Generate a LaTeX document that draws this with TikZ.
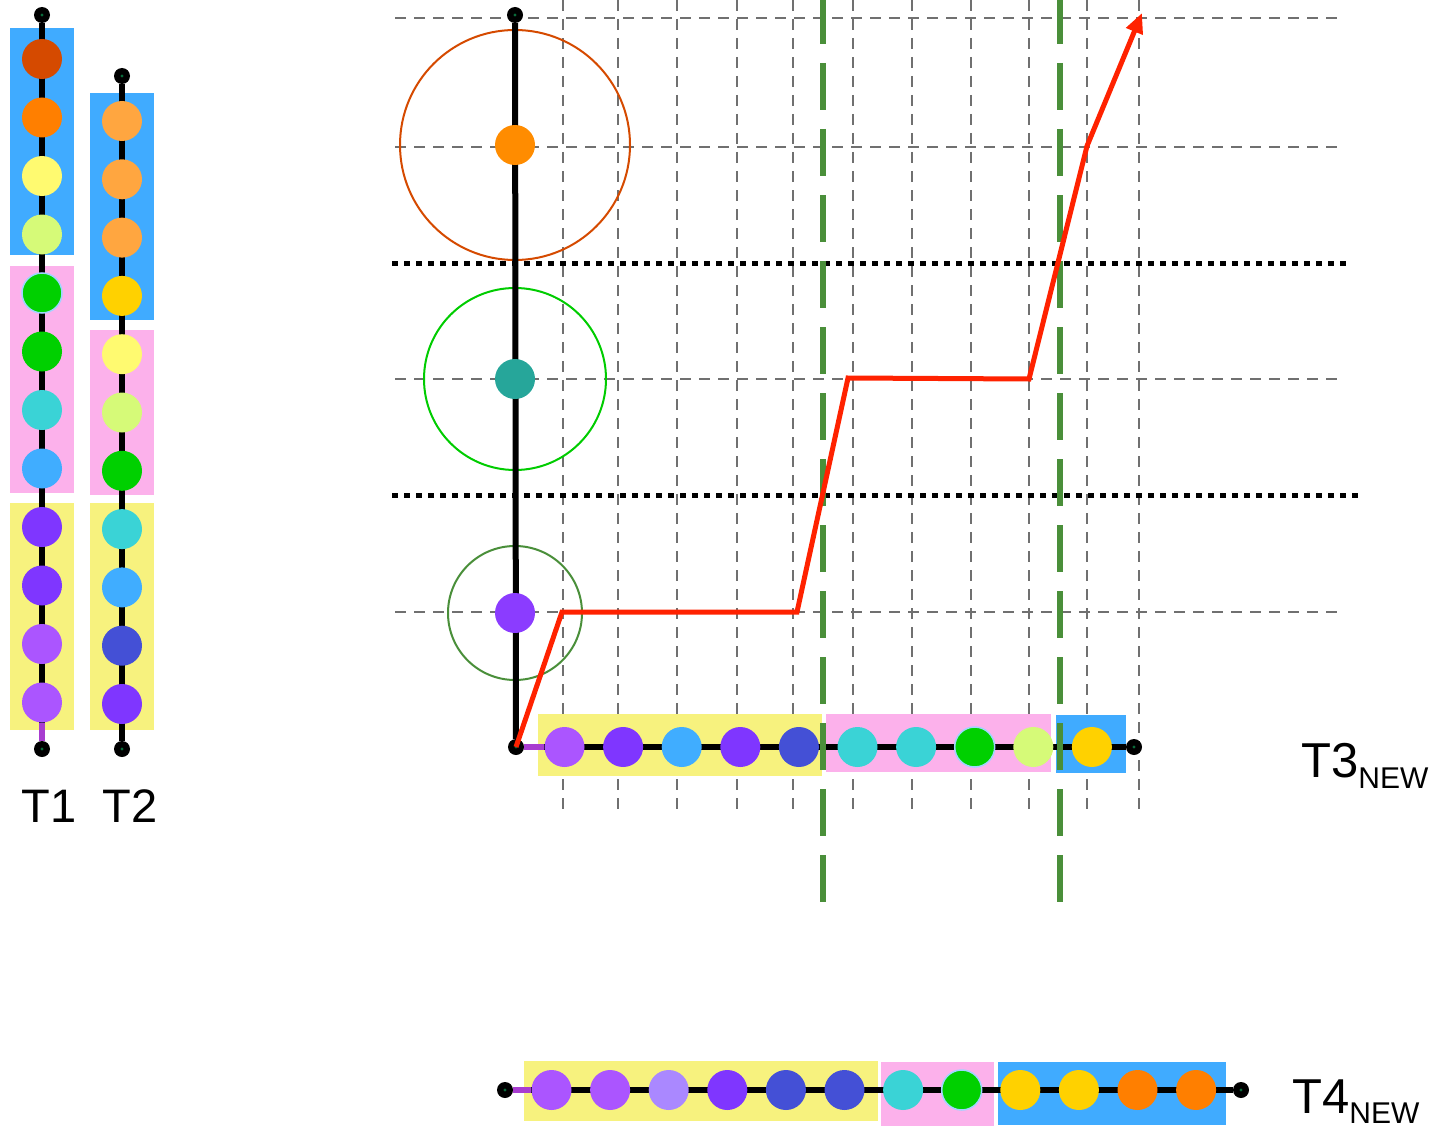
\documentclass[tikz,border=0pt]{standalone}
\usepackage{fontspec}
\setmainfont{Liberation Sans}
\usetikzlibrary{arrows.meta}
\definecolor{darkorg}{HTML}{D54A00}
\definecolor{org}{HTML}{FF7F00}
\definecolor{ylw}{HTML}{FFFA70}
\definecolor{lgrn}{HTML}{D6FA78}
\definecolor{grn}{HTML}{00D000}
\definecolor{cyn}{HTML}{3AD3D6}
\definecolor{blu}{HTML}{40ADFF}
\definecolor{pur}{HTML}{7F36FF}
\definecolor{lpur}{HTML}{AB55FF}
\definecolor{lorg}{HTML}{FFA640}
\definecolor{gld}{HTML}{FFD100}
\definecolor{ind}{HTML}{4450D6}
\definecolor{lav}{HTML}{AA88FF}
\definecolor{plotorg}{HTML}{FF8C00}
\definecolor{tealc}{HTML}{26A69A}
\definecolor{plotpur}{HTML}{8B3CFF}
\definecolor{boxblue}{HTML}{40ABFF}
\definecolor{boxpink}{HTML}{FCB1EB}
\definecolor{boxyellow}{HTML}{F7F27E}
\definecolor{ringgreen}{HTML}{00CC00}
\definecolor{dkgreen}{HTML}{4A8F3A}
\definecolor{redc}{HTML}{FF2200}
\definecolor{segpur}{HTML}{A83CD0}
\definecolor{haloblue}{HTML}{A0D4FF}
\definecolor{dotgreen}{HTML}{0A6A3A}
\definecolor{gridgray}{HTML}{707070}
\tikzset{
  bead/.style={circle, inner sep=0pt, minimum size=40pt},
  nohalo/.style={},
  halo/.style={draw=haloblue, line width=1.5pt},
  endpt/.style={circle, fill=black, inner sep=0pt, minimum size=16pt,
    path picture={\fill[dotgreen] (path picture bounding box.center) circle (1.6pt);}},
  chain/.style={line width=6pt, black},
  purseg/.style={line width=6pt, segpur},
  gridline/.style={gridgray, line width=2.7pt, dash pattern=on 11pt off 8pt},
  dotline/.style={black, line width=5pt, dash pattern=on 6pt off 6pt},
  sepline/.style={dkgreen, line width=5.5pt, dash pattern=on 47pt off 19pt},
  lbl/.style={font=\fontsize{47}{47}\selectfont, inner sep=0pt},
  biglbl/.style={font=\fontsize{49}{49}\selectfont, inner sep=0pt}
}
\begin{document}
\begin{tikzpicture}[x=1pt,y=-1pt]
\useasboundingbox (0,0) rectangle (1435,1129);

% ---- grid ----
\foreach \gy [count=\k] in {18,147,379,612} {
  \coordinate (gl\k) at (395,\gy); \coordinate (gr\k) at (1340,\gy);
  \draw[gridline] (gl\k) -- (gr\k);
}
\foreach \gx [count=\k] in {563,618,677,737,793,853,912,971,1029,1087,1139} {
  \coordinate (gt\k) at (\gx,0); \coordinate (gb\k) at (\gx,815);
  \draw[gridline] (gt\k) -- (gb\k);
}
\coordinate (d1l) at (392,263); \coordinate (d1r) at (1347,263);
\coordinate (d2l) at (392,495); \coordinate (d2r) at (1358,495);
\draw[dotline] (d1l) -- (d1r);
\draw[dotline] (d2l) -- (d2r);

% ---- rings ----
\draw[darkorg, line width=2pt] (515,145) circle (115pt);
\draw[ringgreen, line width=2pt] (515,379) circle (91pt);
\draw[dkgreen, line width=2pt] (515,613) circle (67pt);

% ---- boxes ----
\fill[boxblue] (10,28) rectangle (74,255);
\fill[boxpink] (10,266) rectangle (74,493);
\fill[boxyellow] (10,503) rectangle (74,730);
\fill[boxblue] (90,93) rectangle (154,320);
\fill[boxpink] (90,330) rectangle (154,495);
\fill[boxyellow] (90,503) rectangle (154,730);
\fill[boxyellow] (538,714) rectangle (822,776);
\fill[boxpink] (826,714) rectangle (1051,772);
\fill[boxblue] (1056,715) rectangle (1126,773);
\fill[boxyellow] (524,1061) rectangle (878,1121);
\fill[boxpink] (881,1062) rectangle (994,1126);
\fill[boxblue] (998,1062) rectangle (1226,1125);

% ---- T1 ----
\node[endpt] (t1top) at (42,15) {};
\node[endpt] (t1bot) at (42,749) {};
\draw[chain] (t1top) -- (t1bot);
\foreach \c/\s [count=\i] in {darkorg/nohalo, org/nohalo, ylw/nohalo, lgrn/nohalo, grn/halo, grn/nohalo, cyn/nohalo, blu/nohalo, pur/nohalo, pur/nohalo, lpur/nohalo, lpur/nohalo} {
  \node[bead, fill=\c, \s] (t1n\i) at (42,{59+58.5*(\i-1)}) {};
}
\draw[purseg] (t1n12) -- (t1bot);
\node[lbl, anchor=base] (t1lab) at (49,822) {T1};

% ---- T2 ----
\node[endpt] (t2top) at (122,76) {};
\node[endpt] (t2bot) at (122,749) {};
\draw[chain] (t2top) -- (t2bot);
\foreach \c [count=\i] in {lorg, lorg, lorg, gld, ylw, lgrn, grn, cyn, blu, ind, pur} {
  \node[bead, fill=\c] (t2n\i) at (122,{121+58.3*(\i-1)}) {};
}
\node[lbl, anchor=base] (t2lab) at (130,822) {T2};

% ---- main axes ----
\node[endpt] (ytop) at (515,15) {};
\node[endpt] (orig) at (516,747) {};
\node[endpt] (xend) at (1134,747) {};
\draw[chain] (ytop) -- (orig);
\draw[chain] (orig) -- (xend);
\node[bead, fill=plotorg] (p1) at (515,145) {};
\node[bead, fill=tealc] (p2) at (515,379) {};
\node[bead, fill=plotpur] (p3) at (515,613) {};

% ---- T3 bar ----
\foreach \c/\s [count=\i] in {lpur/nohalo, pur/nohalo, blu/nohalo, pur/nohalo, ind/nohalo, cyn/nohalo, cyn/nohalo, grn/halo, lgrn/nohalo, gld/nohalo} {
  \node[bead, fill=\c, \s] (t3n\i) at ({564.5+58.6*(\i-1)},747) {};
}
\draw[purseg] (orig) -- (t3n1);
\node[biglbl, anchor=base west] (t3lab) at (1301,777) {T3\raisebox{-11pt}{\fontsize{30}{30}\selectfont NEW}};

% ---- T4 bar ----
\node[endpt] (t4a) at (505,1090) {};
\node[endpt] (t4b) at (1241,1090) {};
\draw[chain] (t4a) -- (t4b);
\foreach \c/\s [count=\i] in {lpur/nohalo, lpur/nohalo, lav/nohalo, pur/nohalo, ind/nohalo, ind/nohalo, cyn/nohalo, grn/halo, gld/nohalo, gld/nohalo, org/nohalo, org/nohalo} {
  \node[bead, fill=\c, \s] (t4n\i) at ({551.5+58.6*(\i-1)},1090) {};
}
\draw[purseg] (t4a) -- (t4n1);
\node[biglbl, anchor=base west] (t4lab) at (1292,1113) {T4\raisebox{-10pt}{\fontsize{30}{30}\selectfont NEW}};

% ---- green separators ----
\coordinate (s1t) at (823,-3); \coordinate (s1b) at (823,903);
\coordinate (s2t) at (1060,-3); \coordinate (s2b) at (1060,903);
\draw[sepline] (s1t) -- (s1b);
\draw[sepline] (s2t) -- (s2b);

% ---- red path ----
\coordinate (r1) at (562,612);
\coordinate (r2) at (797,612);
\coordinate (r3) at (848,378);
\coordinate (r4) at (1029,379);
\coordinate (r5) at (1087,146);
\coordinate (r6) at (1142,13);
\draw[redc, line width=5pt, line join=miter, -{Triangle[length=20pt,width=17pt]}]
  (orig.center) -- (r1) -- (r2) -- (r3) -- (r4) -- (r5) -- (r6);
\end{tikzpicture}
\end{document}
